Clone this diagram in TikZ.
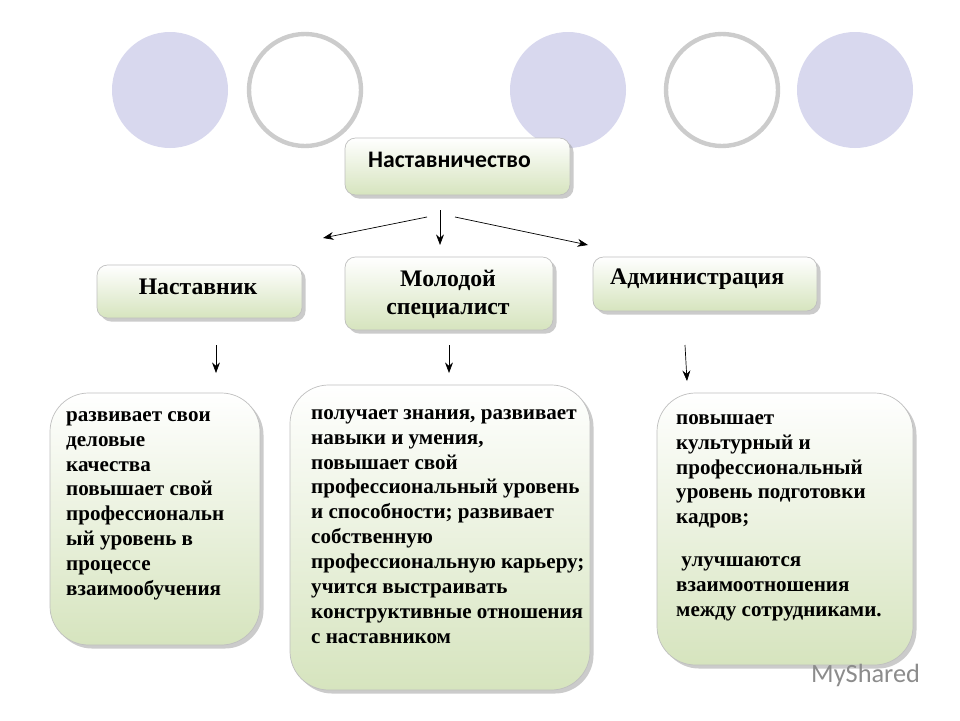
\documentclass[tikz,border=0pt]{standalone}
\usepackage{fontspec}
\setmainfont{Liberation Serif}
\newfontfamily\boxsans{Carlito}
\usetikzlibrary{arrows.meta,shadows}

\definecolor{discfill}{RGB}{216,216,238}
\definecolor{panelgreen}{RGB}{214,228,190}

\tikzset{
  ring/.style={draw=black!20, line width=2.5pt, fill=white},
  disc/.style={fill=discfill},
  panel/.style={rounded corners=6pt, draw=black!25, top color=white, bottom color=panelgreen,
    drop shadow={shadow xshift=2pt, shadow yshift=-2pt, fill=black!40}},
  bigpanel/.style={panel, rounded corners=22pt},
  note/.style={anchor=north west, align=left, font=\bfseries\fontsize{12}{14.2}\selectfont},
  link/.style={-{Stealth[length=6pt]}, thin}
}

\begin{document}
\begin{tikzpicture}[x=0.02cm, y=-0.02cm]
    \useasboundingbox (0,0) rectangle (960,720);
    \fill[white] (0,0) rectangle (960,720);

    % circles on top
    \fill[disc] (170,90) circle (58);
    \draw[ring] (305,90) circle (56);
    \fill[disc] (568,90) circle (58);
    \draw[ring] (722,90) circle (56);
    \fill[disc] (855,90) circle (58);

    % header boxes
    \draw[panel] (345,138) rectangle (570,195);
    \node[anchor=west, font=\boxsans\bfseries\fontsize{13.5}{15}\selectfont] (mentoring) at (362,160) {Наставничество};
    \coordinate (mbottom) at (440,195);

    \draw[panel] (97,265) rectangle (302,318);
    \node[font=\bfseries\fontsize{13.5}{15}\selectfont] (mentor) at (198,287) {Наставник};

    \draw[panel] (345,257) rectangle (553,330);
    \node[align=center, font=\bfseries\fontsize{13.5}{16}\selectfont] (young) at (448,294) {Молодой\\специалист};

    \draw[panel] (593,257) rectangle (817,311);
    \node[anchor=west, font=\bfseries\fontsize{13.5}{15}\selectfont] (admin) at (604,279) {Администрация};

    % arrows from the top box
    \coordinate (a1) at (440,210); \coordinate (a1e) at (440,245);
    \coordinate (a2) at (427,217); \coordinate (a2e) at (323,238);
    \coordinate (a3) at (455,217); \coordinate (a3e) at (588,245);
    \draw[link] (a1) -- (a1e);
    \draw[link] (a2) -- (a2e);
    \draw[link] (a3) -- (a3e);

    % arrows to the lower boxes
    \coordinate (b1) at (216,345); \coordinate (b1e) at (216,373);
    \coordinate (b2) at (449,345); \coordinate (b2e) at (449,373);
    \coordinate (b3) at (685,345); \coordinate (b3e) at (687,381);
    \draw[link] (b1) -- (b1e);
    \draw[link] (b2) -- (b2e);
    \draw[link] (b3) -- (b3e);

    % lower boxes
    \draw[bigpanel] (50,393) rectangle (260,645);
    \node[note] (mentortext) at (60,405) {развивает свои\\деловые\\качества\\повышает свой\\профессиональн\\ый уровень в\\процессе\\взаимообучения};

    \draw[bigpanel] (290,385) rectangle (590,690);
    \node[note] (youngtext) at (305,403) {получает знания, развивает\\навыки и умения,\\повышает свой\\профессиональный уровень\\и способности; развивает\\собственную\\профессиональную карьеру;\\учится выстраивать\\конструктивные отношения\\с наставником};

    \draw[bigpanel] (657,393) rectangle (913,665);
    \node[note] (admintext) at (670,408) {повышает\\культурный и\\профессиональный\\уровень подготовки\\кадров;};
    \node[note] (admintext2) at (670,550) {\ улучшаются\\взаимоотношения\\между сотрудниками.};

    % watermark
    \node[anchor=west, text=black!45, font=\boxsans\fontsize{15}{17}\selectfont] (mark) at (805,675) {MyShared};
\end{tikzpicture}
\end{document}
